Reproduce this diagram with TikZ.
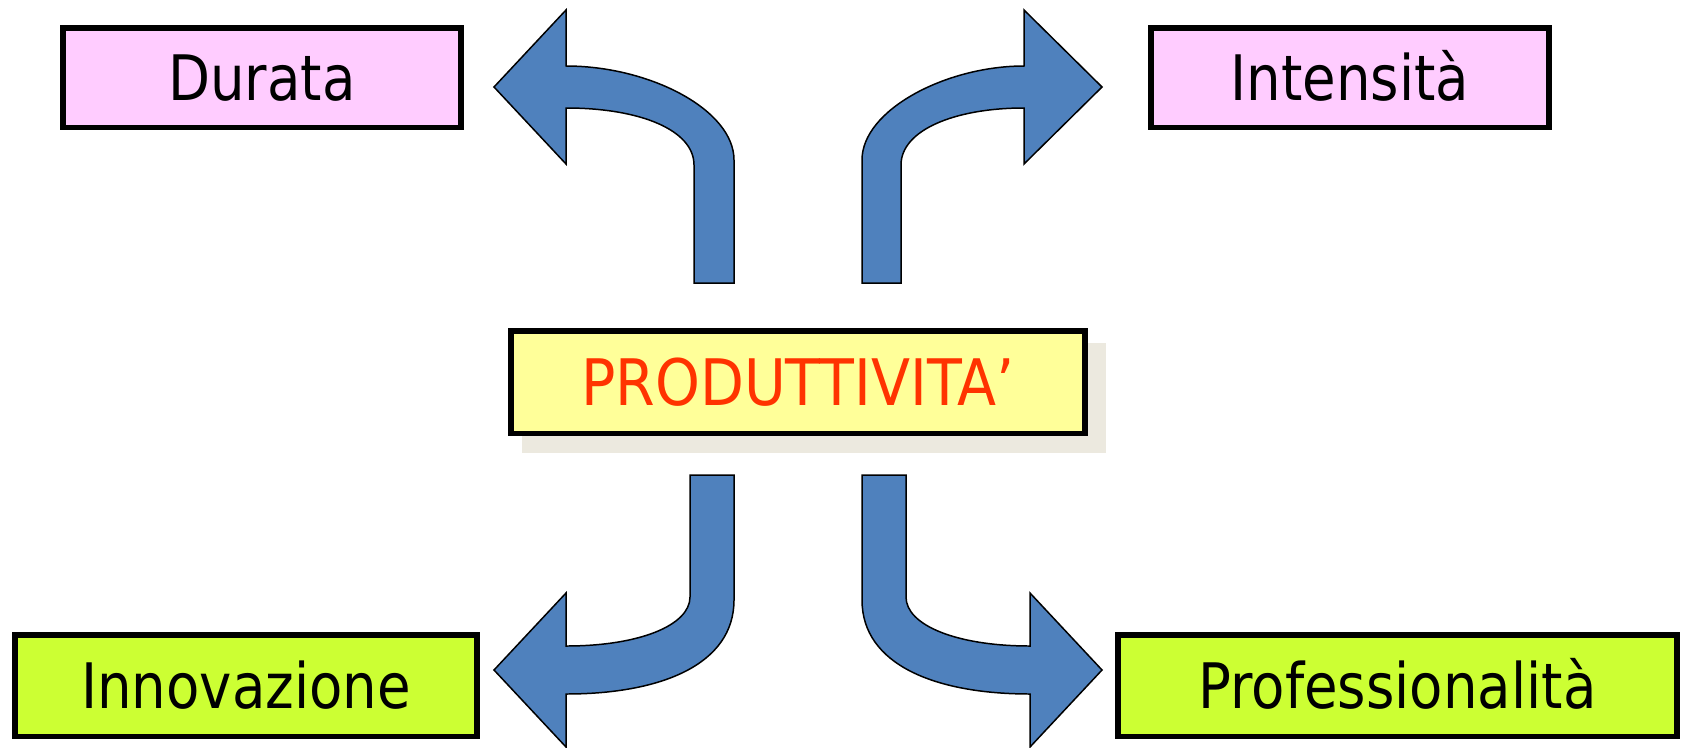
\documentclass[tikz,border=0pt]{standalone}
\usepackage{fontspec}
\setmainfont{DejaVu Sans}[FakeStretch=0.87]
\newfontfamily\prodfont{DejaVu Sans}[FakeStretch=0.89]
\definecolor{pinkbox}{RGB}{255,204,255}
\definecolor{greenbox}{RGB}{204,255,51}
\definecolor{yellowbox}{RGB}{255,255,153}
\definecolor{prodred}{RGB}{255,51,0}
\definecolor{arrowblue}{RGB}{79,129,189}
\definecolor{shadowgray}{RGB}{236,233,223}
\begin{document}
\begin{tikzpicture}[x=0.02cm,y=-0.02cm,
  labelbox/.style={draw=black, line width=3.12pt, inner sep=0pt,
    text height=26pt, text depth=0pt, align=center,
    font=\fontsize{35.7}{40}\selectfont},
  blockarrow/.style={fill=arrowblue, draw=black, line width=0.85pt, line join=miter}]
\useasboundingbox (0,0) rectangle (1689,747);

% boxes
\node[labelbox, fill=pinkbox, minimum width=7.97cm, minimum height=1.99cm] (durata) at (262,77.5) {Durata};
\node[labelbox, fill=pinkbox, minimum width=7.97cm, minimum height=1.99cm] (intensita) at (1350,77.5) {Intensità};
\node[labelbox, fill=greenbox, minimum width=9.25cm, minimum height=2.03cm] (innov) at (246,685.5) {Innovazione};
\node[labelbox, fill=greenbox, minimum width=11.19cm, minimum height=2.03cm] (prof) at (1397.5,685.5) {Professionalità};

% central box with shadow
\fill[shadowgray] (522,343) rectangle (1106,453);
\node[labelbox, fill=yellowbox, minimum width=11.49cm, minimum height=2.05cm,
  text height=27pt, font=\fontsize{36.5}{40}\prodfont, text=prodred] (prod) at (798,382) {PRODUTTIVITA’};

% upper-left arrow
\draw[blockarrow] (694,283) -- (694,165) .. controls (694,130) and (640,108) .. (566,108)
  -- (566,164) -- (494,87) -- (566,10) -- (566,66)
  .. controls (650,66) and (734,110) .. (734,160) -- (734,283) -- cycle;
% upper-right arrow
\draw[blockarrow] (862,283) -- (862,160) .. controls (862,110) and (946,66) .. (1024,66)
  -- (1024,10) -- (1102,87) -- (1024,164) -- (1024,108)
  .. controls (955,108) and (901,130) .. (901,165) -- (901,283) -- cycle;
% lower-left arrow
\draw[blockarrow] (690,475) -- (690,597) .. controls (690,625) and (640,646) .. (566,646)
  -- (566,593) -- (494,670) -- (566,747) -- (566,694)
  .. controls (660,694) and (734,665) .. (734,600) -- (734,475) -- cycle;
% lower-right arrow
\draw[blockarrow] (862,475) -- (862,600) .. controls (862,665) and (936,694) .. (1030,694)
  -- (1030,747) -- (1102,670) -- (1030,593) -- (1030,646)
  .. controls (956,646) and (906,625) .. (906,597) -- (906,475) -- cycle;
\end{tikzpicture}
\end{document}
